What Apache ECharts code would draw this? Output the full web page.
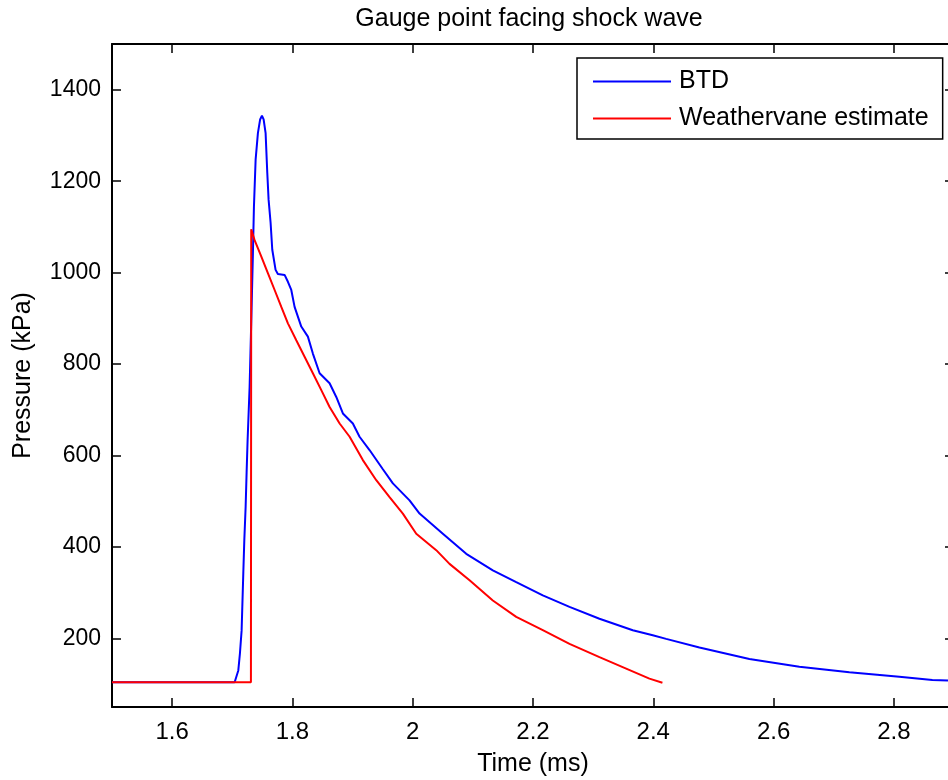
<!DOCTYPE html>
<html>
<head>
<meta charset="utf-8">
<script src="https://cdn.jsdelivr.net/npm/echarts@6/dist/echarts.min.js"></script>
<style>
html,body{margin:0;padding:0;background:#fff;}
#chart{width:948px;height:780px;}
</style>
</head>
<body>
<div id="chart"></div>
<script>
// Time (ms) / Pressure (kPa)
var btdTime = [1.5, 1.7039, 1.7055, 1.7100, 1.7127, 1.7155, 1.7183, 1.7200, 1.7222, 1.7238, 1.7255, 1.7288, 1.7316, 1.7343, 1.7360, 1.7388, 1.7426, 1.7463, 1.7493, 1.7521, 1.7554, 1.7582, 1.7604, 1.7637, 1.7665, 1.7720, 1.7758, 1.7870, 1.7925, 1.7981, 1.8036, 1.8147, 1.8257, 1.8340, 1.8452, 1.8618, 1.8729, 1.8839, 1.9005, 1.9116, 1.9282, 1.9504, 1.9670, 1.9947, 2.0114, 2.0501, 2.0890, 2.1332, 2.1721, 2.2163, 2.2607, 2.3105, 2.3659, 2.3991, 2.4214, 2.4767, 2.5598, 2.6429, 2.7260, 2.8091, 2.8640, 2.8900];
var btdPressure = [104, 104, 106, 130, 167, 217, 342, 415, 488, 562, 635, 750, 896, 1042, 1144, 1247, 1305, 1335, 1343, 1335, 1305, 1218, 1159, 1109, 1050, 1006, 997, 995, 980, 962, 925, 882, 860, 823, 780, 758, 728, 692, 670, 641, 612, 570, 539, 502, 473, 429, 385, 349, 323, 294, 269, 243, 218, 207, 199, 180, 155, 138, 126, 116, 109, 108];

var wvTime = [1.5, 1.7310, 1.7315, 1.7371, 1.7483, 1.7592, 1.7704, 1.7815, 1.7925, 1.8064, 1.8202, 1.8340, 1.8480, 1.8618, 1.8785, 1.8951, 1.9171, 1.9394, 1.9615, 1.9836, 2.0059, 2.0391, 2.0612, 2.0945, 2.1332, 2.1721, 2.2163, 2.2607, 2.3105, 2.3549, 2.3936, 2.4152];
var wvPressure = [104, 104, 1095, 1071, 1035, 999, 962, 925, 889, 852, 816, 780, 743, 706, 670, 641, 590, 546, 509, 473, 429, 393, 363, 327, 283, 247, 218, 188, 159, 134, 112, 103];

var xTicks = [1.6, 1.8, 2.0, 2.2, 2.4, 2.6, 2.8];
var yTicks = [200, 400, 600, 800, 1000, 1200, 1400];
var seriesNames = ['BTD', 'Weathervane estimate'];
var chartTitle = 'Gauge point facing shock wave';
var xName = 'Time (ms)';
var yName = 'Pressure (kPa)';

function zip(a, b) { return a.map(function (v, i) { return [v, b[i]]; }); }

var FONT = "'Liberation Sans', Arial, Helvetica, sans-serif";
var axisLine = { show: true, onZero: false, lineStyle: { color: '#000', width: 2 } };
var tick = function (vals) { return { show: true, inside: true, length: 9, customValues: vals, lineStyle: { color: '#000', width: 1.5 } }; };
var plain = function (v) { return String(v); };

var chart = echarts.init(document.getElementById('chart'), null, { renderer: 'canvas' });
chart.setOption({
  animation: false,
  backgroundColor: '#fff',
  title: {
    text: chartTitle, left: 529, top: 7, padding: 0, textAlign: 'center',
    textStyle: { fontFamily: FONT, fontSize: 25, fontWeight: 'normal', color: '#000' }
  },
  grid: { left: 112, top: 44, width: 842, height: 663, containLabel: false, outerBoundsMode: 'none' },
  legend: {
    orient: 'vertical', left: 577, top: 58,
    padding: [11, 14, 8, 16], itemGap: 12,
    itemWidth: 78, itemHeight: 2, icon: 'rect',
    borderColor: '#000', borderWidth: 1.5, backgroundColor: '#fff',
    textStyle: { fontFamily: FONT, fontSize: 25, color: '#000', padding: [0, 0, 0, 3] },
    data: seriesNames
  },
  xAxis: [
    { type: 'value', position: 'bottom', min: 1.5, max: 2.9,
      name: xName, nameLocation: 'middle', nameGap: 45,
      nameTextStyle: { fontFamily: FONT, fontSize: 25, color: '#000' },
      axisLine: axisLine, axisTick: tick(xTicks),
      axisLabel: { customValues: xTicks, formatter: plain, margin: 13, fontFamily: FONT, fontSize: 24, color: '#000' },
      splitLine: { show: false } },
    { type: 'value', position: 'top', min: 1.5, max: 2.9,
      axisLine: axisLine, axisTick: tick(xTicks), axisLabel: { show: false }, splitLine: { show: false } }
  ],
  yAxis: [
    { type: 'value', position: 'left', min: 50, max: 1500,
      name: yName, nameLocation: 'middle', nameGap: 76,
      nameTextStyle: { fontFamily: FONT, fontSize: 25, color: '#000' },
      axisLine: axisLine, axisTick: tick(yTicks),
      axisLabel: { customValues: yTicks, formatter: plain, margin: 11, fontFamily: FONT, fontSize: 23, color: '#000' },
      splitLine: { show: false } },
    { type: 'value', position: 'right', min: 50, max: 1500,
      axisLine: axisLine, axisTick: tick(yTicks), axisLabel: { show: false }, splitLine: { show: false } }
  ],
  series: [
    { name: seriesNames[0], type: 'line', xAxisIndex: 0, yAxisIndex: 0, showSymbol: false, symbol: 'none',
      data: zip(btdTime, btdPressure), color: '#0000ff', lineStyle: { color: '#0000ff', width: 2 } },
    { name: seriesNames[1], type: 'line', xAxisIndex: 0, yAxisIndex: 0, showSymbol: false, symbol: 'none',
      data: zip(wvTime, wvPressure), color: '#ff0000', lineStyle: { color: '#ff0000', width: 2 } }
  ]
});
</script>
</body>
</html>
